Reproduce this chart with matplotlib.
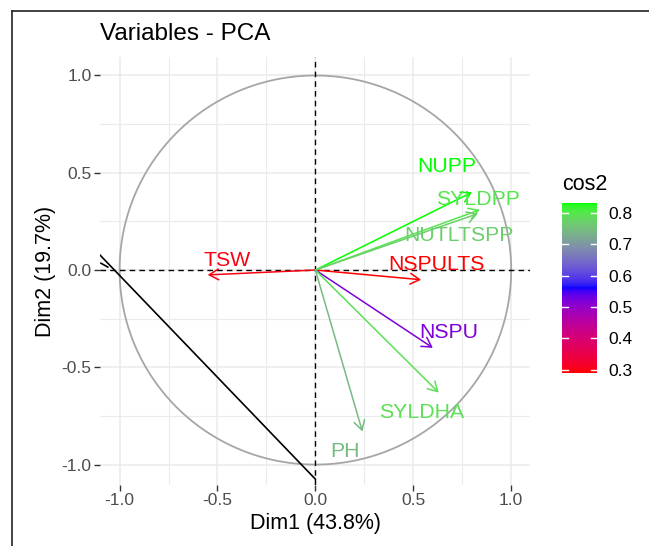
import numpy as np
import matplotlib
matplotlib.use("Agg")
import matplotlib.pyplot as plt
from matplotlib.colors import ListedColormap, Normalize
from matplotlib.lines import Line2D

# ---- data ----
var_names = ["TSW", "NSPULTS", "NUPP", "SYLDPP", "NUTLTSPP", "NSPU", "SYLDHA", "PH"]
dim1 = [-0.55, 0.54, 0.80, 0.84, 0.83, 0.60, 0.63, 0.24]
dim2 = [-0.025, -0.05, 0.40, 0.31, 0.29, -0.40, -0.63, -0.83]
cos2 = [0.30, 0.29, 0.832, 0.80, 0.77, 0.52, 0.79, 0.745]
label_x = [-0.45, 0.62, 0.67, 0.83, 0.735, 0.68, 0.54, 0.15]
label_y = [0.05, 0.026, 0.53, 0.36, 0.175, -0.32, -0.73, -0.935]
ticks = [-1.0, -0.5, 0.0, 0.5, 1.0]
tick_labels = ["-1.0", "-0.5", "0.0", "0.5", "1.0"]
cbar_ticks = [0.3, 0.4, 0.5, 0.6, 0.7, 0.8]
title = "Variables - PCA"
xlab = "Dim1 (43.8%)"
ylab = "Dim2 (19.7%)"
legend_title = "cos2"

plt.rcParams['font.family'] = ['Liberation Sans', 'DejaVu Sans']

# ---- Lab gradient red -> blue -> green (as ggplot) ----
def srgb_to_lab(rgb):
    rgb = np.asarray(rgb, float)
    lin = np.where(rgb <= 0.04045, rgb / 12.92, ((rgb + 0.055) / 1.055) ** 2.4)
    M = np.array([[0.4124, 0.3576, 0.1805], [0.2126, 0.7152, 0.0722], [0.0193, 0.1192, 0.9505]])
    xyz = lin @ M.T
    wp = np.array([0.95047, 1.0, 1.08883])
    t = xyz / wp
    f = np.where(t > (6/29)**3, np.cbrt(t), t / (3*(6/29)**2) + 4/29)
    L = 116*f[..., 1] - 16
    a = 500*(f[..., 0] - f[..., 1])
    b = 200*(f[..., 1] - f[..., 2])
    return np.stack([L, a, b], -1)

def lab_to_srgb(lab):
    lab = np.asarray(lab, float)
    fy = (lab[..., 0] + 16) / 116
    fx = fy + lab[..., 1] / 500
    fz = fy - lab[..., 2] / 200
    f = np.stack([fx, fy, fz], -1)
    t = np.where(f > 6/29, f**3, 3*(6/29)**2*(f - 4/29))
    wp = np.array([0.95047, 1.0, 1.08883])
    xyz = t * wp
    Minv = np.linalg.inv(np.array([[0.4124, 0.3576, 0.1805], [0.2126, 0.7152, 0.0722], [0.0193, 0.1192, 0.9505]]))
    lin = xyz @ Minv.T
    lin = np.clip(lin, 0, 1)
    rgb = np.where(lin <= 0.0031308, 12.92*lin, 1.055*lin**(1/2.4) - 0.055)
    return np.clip(rgb, 0, 1)

anchors = srgb_to_lab([[1, 0, 0], [0, 0, 1], [0, 1, 0]])
s = np.linspace(0, 1, 256)
labs = np.where(s[:, None] <= 0.5,
                anchors[0] + (anchors[1] - anchors[0]) * (s[:, None] / 0.5),
                anchors[1] + (anchors[2] - anchors[1]) * ((s[:, None] - 0.5) / 0.5))
cmap = ListedColormap(lab_to_srgb(labs))
norm = Normalize(vmin=min(cos2), vmax=max(cos2))

# ---- figure ----
W, H = 649, 546
fig = plt.figure(figsize=(W/100, H/100), dpi=100)
ax = fig.add_axes([100/W, (H-485)/H, 430/W, 428/H])
ax.set_xlim(-1.1, 1.096)
ax.set_ylim(-1.105, 1.095)

ax.set_xticks(ticks)
ax.set_xticklabels(tick_labels)
ax.set_yticks(ticks)
ax.set_yticklabels(tick_labels)
ax.set_xticks(np.arange(-1.0, 1.01, 0.25), minor=True)
ax.set_yticks(np.arange(-1.0, 1.01, 0.25), minor=True)
ax.grid(True, which='major', color='#EBEBEB', lw=1.1)
ax.grid(True, which='minor', color='#EBEBEB', lw=0.8)
ax.set_axisbelow(True)
for sp in ax.spines.values():
    sp.set_visible(False)
ax.tick_params(which='major', length=4, width=1.0, color='#333333', labelsize=12.5,
               labelcolor='#4D4D4D', pad=2)
ax.tick_params(which='minor', length=0)

ax.set_xlabel(xlab, fontsize=15.5, labelpad=3)
ax.set_ylabel(ylab, fontsize=15.5, labelpad=4)

# circle
th = np.linspace(0, 2*np.pi, 200)
ax.plot(np.cos(th), np.sin(th), color='#A6A6A6', lw=1.3)

# dashed axes
ax.axhline(0, color='black', ls=(0, (4, 3)), lw=1.0)
ax.axvline(0, color='black', ls=(0, (4, 3)), lw=1.0)

# stray black lines
ax.plot([-1.10, 0.0], [0.077, -1.075], color='black', lw=1.2)
ax.plot([-1.095, -1.06], [0.035, 0.015], color='black', lw=1.2)

for i in range(len(var_names)):
    c = cmap(norm(cos2[i]))
    ax.annotate('', xy=(dim1[i], dim2[i]), xytext=(0, 0),
                arrowprops=dict(arrowstyle='->,head_length=0.45,head_width=0.26',
                                color=c, lw=1.1, shrinkA=0, shrinkB=0, mutation_scale=15))
    ax.text(label_x[i], label_y[i], var_names[i], color=c, fontsize=15.3,
            ha='center', va='center')

fig.text(100/W, 1 - 33.5/H, title, fontsize=17.5, ha='left', va='center')

# colorbar
cax = fig.add_axes([562/W, (H-373)/H, 35/W, 170/H])
grad = np.linspace(norm.vmin, norm.vmax, 256).reshape(-1, 1)
cax.imshow(grad, aspect='auto', cmap=cmap, norm=norm, origin='lower',
           extent=[0, 1, norm.vmin, norm.vmax])
cax.set_xlim(0, 1)
cax.set_ylim(norm.vmin, norm.vmax)
cax.set_xticks([])
cax.yaxis.tick_right()
cax.set_yticks(cbar_ticks)
cax.set_yticklabels([f"{v:.1f}" for v in cbar_ticks])
cax.tick_params(axis='y', length=0, labelsize=12.5, pad=8)
for sp in cax.spines.values():
    sp.set_visible(False)
for v in cbar_ticks:
    cax.plot([0, 0.18], [v, v], color='white', lw=1)
    cax.plot([0.82, 1], [v, v], color='white', lw=1)
fig.text(562/W, 1 - 185/H, legend_title, fontsize=15.5, ha='left', va='center')

# outer border lines (left and top)
fig.add_artist(Line2D([12/W, 12/W], [0, 1 - 11/H], color='#222222', lw=1.2))
fig.add_artist(Line2D([12/W, 1], [1 - 11/H, 1 - 11/H], color='#222222', lw=1.2))

fig.savefig("out.png", dpi=100)
